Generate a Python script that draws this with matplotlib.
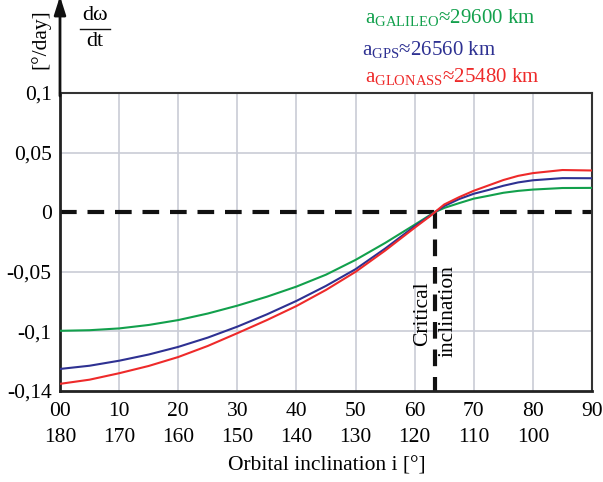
import matplotlib
matplotlib.use("Agg")
import matplotlib.pyplot as plt
from matplotlib.lines import Line2D
from matplotlib.transforms import blended_transform_factory

plt.rcParams['font.family'] = ['Liberation Serif', 'DejaVu Serif']
plt.rcParams['mathtext.fontset'] = 'custom'
plt.rcParams['mathtext.rm'] = 'Liberation Serif'

# inclination [deg] and argument-of-perigee rate [deg/day]
incl = [0, 5, 10, 15, 20, 25, 30, 35, 40, 45, 50, 55, 60, 62.5, 63.4, 65, 67.5, 70,
        72.5, 75, 77.5, 80, 85, 90]
galileo = [-0.0995, -0.0990, -0.0975, -0.0946, -0.0905, -0.0850, -0.0784, -0.0709, -0.0624,
           -0.0524, -0.0400, -0.0258, -0.0105, -0.0027, 0.0, 0.0036, 0.0076, 0.0114,
           0.0138, 0.0163, 0.0179, 0.0190, 0.0203, 0.0204]
gps = [-0.1315, -0.1288, -0.1246, -0.1194, -0.1130, -0.1052, -0.0960, -0.0857, -0.0744,
       -0.0618, -0.0478, -0.0305, -0.0118, -0.0033, 0.0, 0.0052, 0.0110, 0.0155,
       0.0187, 0.0222, 0.0250, 0.0268, 0.0286, 0.0285]
glonass = [-0.1440, -0.1405, -0.1351, -0.1290, -0.1215, -0.1122, -0.1015, -0.0905, -0.0787,
           -0.0652, -0.0500, -0.0322, -0.0130, -0.0037, 0.0, 0.0065, 0.0126, 0.0180,
           0.0225, 0.0270, 0.0305, 0.0328, 0.0354, 0.0350]
crit_incl = 63.4

xticks = [0, 10, 20, 30, 40, 50, 60, 70, 80, 90]
xlabels_top = ["00", "10", "20", "30", "40", "50", "60", "70", "80", "90"]
xlabels_bot = ["180", "170", "160", "150", "140", "130", "120", "110", "100"]
yticks = [0.1, 0.05, 0, -0.05, -0.1, -0.15]
ylabels = ["0,1", "0,05", "0", "-0,05", "-0,1", "-0,14"]
ygrid = [0.05, -0.05, -0.1]

green = "#12a04c"
blue = "#2e3192"
red = "#ee2a2a"
gridc = "#c9ccd6"
fs = 15.5

fig = plt.figure(figsize=(6.03, 4.82), dpi=100)
ax = fig.add_axes([0.0995, 0.1888, 0.8823, 0.6182])
ax.set_xlim(0, 90)
ax.set_ylim(-0.15, 0.1)

for x in xticks[1:-1]:
    ax.axvline(x, color=gridc, lw=1.2, zorder=1)
for y in ygrid:
    ax.axhline(y, color=gridc, lw=1.2, zorder=1)

ax.plot([0, 90], [0, 0], color="#111111", lw=3, dashes=(4, 2.6), zorder=2)
ax.plot([crit_incl, crit_incl], [0, -0.15], color="#111111", lw=3, dashes=(4, 2.6), zorder=2)

ax.plot(incl, galileo, color=green, lw=1.5, zorder=3)
ax.plot(incl, gps, color=blue, lw=1.5, zorder=3)
ax.plot(incl, glonass, color=red, lw=1.5, zorder=3)

ax.set_xticks(xticks)
ax.set_xticklabels([])
ax.set_yticks(yticks)
ax.set_yticklabels(ylabels, fontsize=fs)
ax.tick_params(length=0)
ax.tick_params(axis='y', pad=6)

for s in ["top", "right"]:
    ax.spines[s].set_color("#333333")
    ax.spines[s].set_linewidth(1.5)
for s in ["left", "bottom"]:
    ax.spines[s].set_color("#222222")
    ax.spines[s].set_linewidth(2)

trans = blended_transform_factory(ax.transData, ax.transAxes)
for x, lab in zip(xticks, xlabels_top):
    ax.text(x, -0.068, lab, transform=trans, ha="center", va="center", fontsize=fs)
for x, lab in zip(xticks, xlabels_bot):
    ax.text(x, -0.156, lab, transform=trans, ha="center", va="center", fontsize=fs)
fig.text(0.5415, 1 - 466 / 482, "Orbital inclination i [°]", ha="center", va="center", fontsize=fs)

# y-axis arrow
ax.annotate("", xy=(0, 1.325), xycoords="axes fraction", xytext=(0, 0.99),
            arrowprops=dict(arrowstyle="-|>,head_length=1.1,head_width=0.35",
                            color="#111111", lw=2, shrinkA=0, shrinkB=0))
fig.text(40 / 603, 1 - 39 / 482, "[°/day]", rotation=90, ha="center", va="center", fontsize=fs)
fig.text(95 / 603, 1 - 16 / 482, "dω", ha="center", va="center", fontsize=16)
fig.text(95 / 603, 1 - 42 / 482, "dt", ha="center", va="center", fontsize=16)
fig.add_artist(Line2D([80 / 603, 110 / 603], [1 - 29 / 482, 1 - 29 / 482],
                      transform=fig.transFigure, color="#111111", lw=1))

fig.text(365 / 603, 1 - 18 / 482, r"a$_{\mathrm{GALILEO}}$≈29600 km", color=green,
         ha="left", va="center", fontsize=15)
fig.text(362 / 603, 1 - 50 / 482, r"a$_{\mathrm{GPS}}$≈26560 km", color=blue,
         ha="left", va="center", fontsize=15)
fig.text(365 / 603, 1 - 77 / 482, r"a$_{\mathrm{GLONASS}}$≈25480 km", color=red,
         ha="left", va="center", fontsize=15)

ax.text(61.4, -0.0855, "Critical", rotation=90, ha="center", va="center", fontsize=fs)
ax.text(65.6, -0.083, "inclination", rotation=90, ha="center", va="center", fontsize=fs)

fig.savefig("out.png", dpi=100)
print("saved")
